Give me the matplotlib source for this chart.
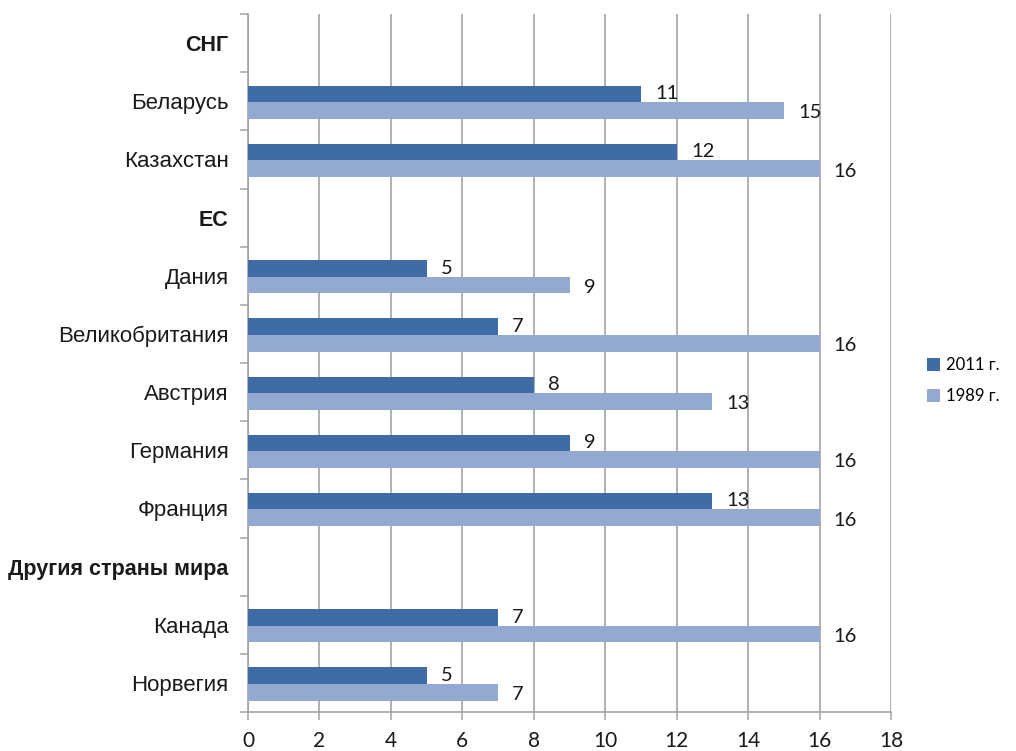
import numpy as np
import matplotlib
matplotlib.use("Agg")
import matplotlib.pyplot as plt
from matplotlib.patches import Patch

categories = ['СНГ', 'Беларусь', 'Казахстан', 'ЕС', 'Дания', 'Великобритания',
              'Австрия', 'Германия', 'Франция', 'Другия страны мира', 'Канада', 'Норвегия']
is_header = [True, False, False, True, False, False, False, False, False, True, False, False]
v2011 = [np.nan, 11, 12, np.nan, 5, 7, 8, 9, 13, np.nan, 7, 5]
v1989 = [np.nan, 15, 16, np.nan, 9, 16, 13, 16, 16, np.nan, 16, 7]
series_names = ['2011 г.', '1989 г.']
xticks = [0, 2, 4, 6, 8, 10, 12, 14, 16, 18]

c_dark = '#3F6CA7'
c_light = '#93A9D2'
grid_c = '#A3A3A3'

fig = plt.figure(figsize=(10.16, 7.51), dpi=100)
ax = fig.add_axes([248/1016, 1 - 712/751, (891-248)/1016, (712-14)/751])

y = np.arange(len(categories))
h = 0.285
ax.barh(y - 0.125, v2011, height=h, color=c_dark, zorder=3)
ax.barh(y + 0.16, v1989, height=h, color=c_light, zorder=3)

for i in range(len(categories)):
    if not np.isnan(v2011[i]):
        ax.text(v2011[i] + 0.4, y[i] - 0.13, f"{int(v2011[i])}", ha='left', va='center',
                fontsize=14.5, family='Lato', color='#1a1a1a', zorder=4)
    if not np.isnan(v1989[i]):
        ax.text(v1989[i] + 0.4, y[i] + 0.20, f"{int(v1989[i])}", ha='left', va='center',
                fontsize=14.5, family='Lato', color='#1a1a1a', zorder=4)

ax.set_xlim(0, 18)
ax.set_ylim(len(categories) - 0.5, -0.5)
ax.set_xticks(xticks)
ax.set_xticklabels([str(t) for t in xticks], fontsize=15, family='Lato', color='#1a1a1a')
ax.set_yticks(y)
ax.set_yticks(np.arange(-0.5, len(categories)), minor=True)
ax.set_yticklabels(categories)
for lab, hd in zip(ax.get_yticklabels(), is_header):
    lab.set_family('Liberation Sans')
    lab.set_color('#1a1a1a')
    if hd:
        lab.set_fontweight('bold')
        lab.set_fontsize(15.5)
    else:
        lab.set_fontsize(16)

ax.tick_params(axis='y', which='major', length=0, pad=14)
ax.tick_params(axis='y', which='minor', length=6, width=1.1, color=grid_c, direction='out')
ax.tick_params(axis='x', which='major', length=6, width=1.1, color=grid_c, direction='out', pad=8)

ax.grid(axis='x', color=grid_c, linewidth=1.2, zorder=0)
for s in ['top', 'right']:
    ax.spines[s].set_visible(False)
for s in ['left', 'bottom']:
    ax.spines[s].set_color(grid_c)
    ax.spines[s].set_linewidth(1.2)

handles = [Patch(facecolor=c_dark, edgecolor='none'), Patch(facecolor=c_light, edgecolor='none')]
fig.legend(handles, series_names, loc='center left', bbox_to_anchor=(922/1016, 1 - 381/751),
           frameon=False, prop={'family': 'Lato', 'size': 12},
           handlelength=0.8, handleheight=0.8, handletextpad=0.35, labelspacing=0.9,
           borderaxespad=0, borderpad=0.3)

fig.savefig('out.png', dpi=100, facecolor='white')
